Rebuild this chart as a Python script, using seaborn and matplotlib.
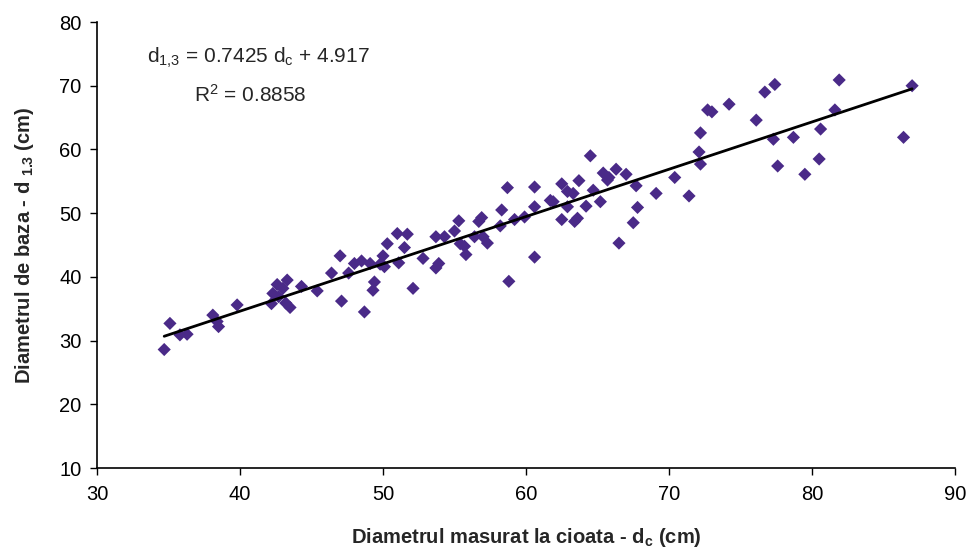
import numpy as np
import pandas as pd
import matplotlib
matplotlib.use("Agg")
import matplotlib.pyplot as plt
import seaborn as sns

# Data
dc = [34.7, 35.1, 35.8, 36.3, 38.1, 38.4, 38.5, 39.8, 42.2, 42.3, 42.6, 42.7, 43.0, 43.2,
      43.3, 43.5, 44.3, 45.4, 46.4, 47.0, 47.1, 47.6, 48.0, 48.5, 48.7, 49.1, 49.4, 49.3,
      49.8, 50.0, 50.1, 50.3, 51.0, 51.1, 51.5, 51.7, 52.1, 52.8, 53.7, 53.7, 53.9, 54.3,
      55.0, 55.3, 55.4, 55.7, 55.8, 56.4, 56.7, 56.9, 57.0, 57.3, 58.2, 58.3, 58.7, 58.8,
      59.2, 59.9, 60.6, 60.6, 60.6, 61.7, 61.9, 62.5, 62.5, 62.9, 62.9, 63.3, 63.4, 63.6,
      63.7, 64.2, 64.5, 64.7, 65.2, 65.4, 65.7, 65.8, 66.3, 66.5, 67.0, 67.5, 67.7, 67.8,
      69.1, 70.4, 71.4, 72.1, 72.2, 72.2, 72.7, 73.0, 74.2, 76.1, 76.7, 77.3, 77.4, 77.6,
      78.7, 79.5, 80.5, 80.6, 81.6, 81.9, 86.4, 87.0]
d13 = [28.6, 32.7, 30.9, 31.0, 34.0, 33.0, 32.2, 35.6, 35.8, 37.4, 38.8, 36.9, 38.2, 35.9,
       39.5, 35.2, 38.5, 37.8, 40.6, 43.3, 36.2, 40.6, 42.1, 42.5, 34.5, 42.1, 39.2, 37.9,
       42.0, 43.3, 41.6, 45.2, 46.8, 42.2, 44.6, 46.7, 38.2, 42.9, 46.3, 41.4, 42.1, 46.3,
       47.2, 48.8, 45.2, 44.8, 43.5, 46.3, 48.7, 49.3, 46.3, 45.3, 48.0, 50.5, 54.0, 39.3,
       49.0, 49.4, 54.1, 51.0, 43.1, 52.0, 51.8, 54.6, 49.0, 53.4, 51.0, 53.1, 48.7, 49.2,
       55.1, 51.1, 59.0, 53.6, 51.8, 56.3, 55.2, 55.6, 56.9, 45.3, 56.1, 48.5, 54.3, 50.9,
       53.1, 55.6, 52.7, 59.6, 57.7, 62.6, 66.2, 65.9, 67.1, 64.6, 69.0, 61.6, 70.2, 57.4,
       61.9, 56.1, 58.5, 63.2, 66.2, 70.9, 61.9, 70.0]
slope = 0.7425
intercept = 4.917
r2 = 0.8858
x_ticks = [30, 40, 50, 60, 70, 80, 90]
y_ticks = [10, 20, 30, 40, 50, 60, 70, 80]

df = pd.DataFrame({"dc": dc, "d13": d13})
xfit = np.array([min(dc), max(dc)])
fit = pd.DataFrame({"x": xfit, "y": slope * xfit + intercept})

sns.set_theme(style="white")
plt.rcParams["font.family"] = ["Liberation Sans", "DejaVu Sans"]
plt.rcParams["mathtext.fontset"] = "custom"
plt.rcParams["mathtext.rm"] = "Liberation Sans"
plt.rcParams["mathtext.it"] = "Liberation Sans"
plt.rcParams["mathtext.bf"] = "Liberation Sans:bold"

fig = plt.figure(figsize=(9.67, 5.5), dpi=100)
ax = fig.add_axes([0.1003, 0.149, 0.8873, 0.811])

sns.scatterplot(data=df, x="dc", y="d13", marker="D", s=45, color="#4a2a88",
                edgecolor="none", ax=ax, zorder=2)
sns.lineplot(data=fit, x="x", y="y", color="black", linewidth=2, ax=ax, zorder=3)

ax.set_xlim(30, 90)
ax.set_ylim(10, 80)
ax.set_xticks(x_ticks)
ax.set_yticks(y_ticks)
ax.tick_params(axis="both", labelsize=14.5, direction="out", length=5, width=1,
               color="black", labelcolor="black", bottom=True, left=True)
ax.tick_params(axis="x", pad=7)
ax.tick_params(axis="y", pad=6)
for side in ["top", "right"]:
    ax.spines[side].set_visible(False)
for side in ["left", "bottom"]:
    ax.spines[side].set_color("black")
    ax.spines[side].set_linewidth(1.2)

ax.set_xlabel(r"Diametrul masurat la cioata - d$_\mathbf{c}$ (cm)", fontsize=14.5,
              fontweight="bold", labelpad=16)
ax.set_ylabel(r"Diametrul de baza - d $_\mathbf{1.3}$ (cm)", fontsize=14.5,
              fontweight="bold", labelpad=17)

ax.text(41.3, 74.4, r"d$_{1{,}3}$ = %.4f d$_{c}$ + %.3f" % (slope, intercept),
        fontsize=15, ha="center", va="center")
ax.text(40.7, 68.5, r"R$^{2}$ = %.4f" % r2, fontsize=15, ha="center", va="center")

fig.savefig("out.png", dpi=100)
